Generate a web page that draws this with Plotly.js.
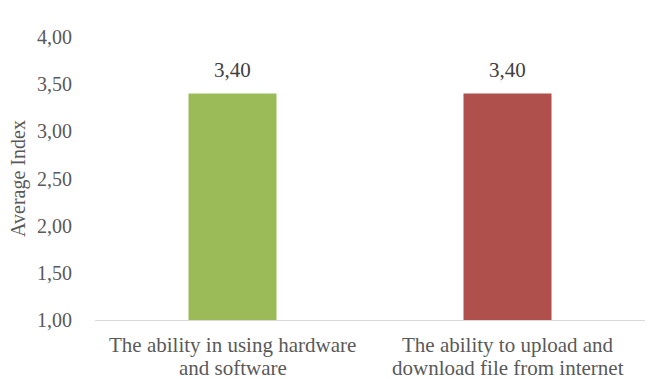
<!DOCTYPE html>
<html>
<head>
<meta charset="utf-8">
<script src="https://cdn.plot.ly/plotly-3.0.1.min.js"></script>
<style>html,body{margin:0;padding:0;background:#fff;}#chart{width:648px;height:379px;}</style>
</head>
<body>
<div id="chart"></div>
<script>
const categories = ["The ability in using hardware<br>and software", "The ability to upload and<br>download file from internet"];
const values = [3.40, 3.40];
const valueLabels = ["3,40", "3,40"];
const barColors = ["#9BBB59", "#B0504D"];
const yTicks = [1.0, 1.5, 2.0, 2.5, 3.0, 3.5, 4.0];

const font = "'Liberation Serif', 'Times New Roman', serif";

const annotations = [];
categories.forEach((c, i) => {
  const lines = c.split('<br>');
  lines.forEach((ln, j) => {
    annotations.push({
      x: c, xref: 'x', y: 0, yref: 'paper', yanchor: 'top', xanchor: 'center',
      text: ln, showarrow: false, yshift: -11 - 23 * j,
      font: {family: font, size: 21, color: '#595959'}
    });
  });
  annotations.push({
    x: c, xref: 'x', y: values[i], yref: 'y', yanchor: 'bottom', xanchor: 'center',
    text: valueLabels[i], showarrow: false, yshift: 10,
    font: {family: font, size: 21, color: '#404040'}
  });
});

Plotly.newPlot('chart', [{
  type: 'bar',
  x: categories,
  y: values,
  base: 0,
  marker: {color: barColors},
  hoverinfo: 'none'
}], {
  width: 648, height: 379,
  margin: {l: 95, r: 3, t: 37, b: 59},
  separators: ',.',
  paper_bgcolor: '#fff', plot_bgcolor: '#fff',
  showlegend: false,
  bargap: 0.68,
  font: {family: font, color: '#595959', size: 20},
  annotations: annotations,
  xaxis: {
    showline: true, linecolor: '#d9d9d9', linewidth: 1,
    ticks: '', showgrid: false, zeroline: false, showticklabels: false
  },
  yaxis: {
    range: [1, 4], tickvals: yTicks, tickformat: '.2f',
    showgrid: false, zeroline: false, showline: false, ticks: '',
    ticklabelstandoff: 22,
    tickfont: {family: font, size: 20, color: '#595959'},
    title: {text: 'Average Index', font: {family: font, size: 20, color: '#595959'}, standoff: 6}
  }
}, {staticPlot: true});
</script>
</body>
</html>
